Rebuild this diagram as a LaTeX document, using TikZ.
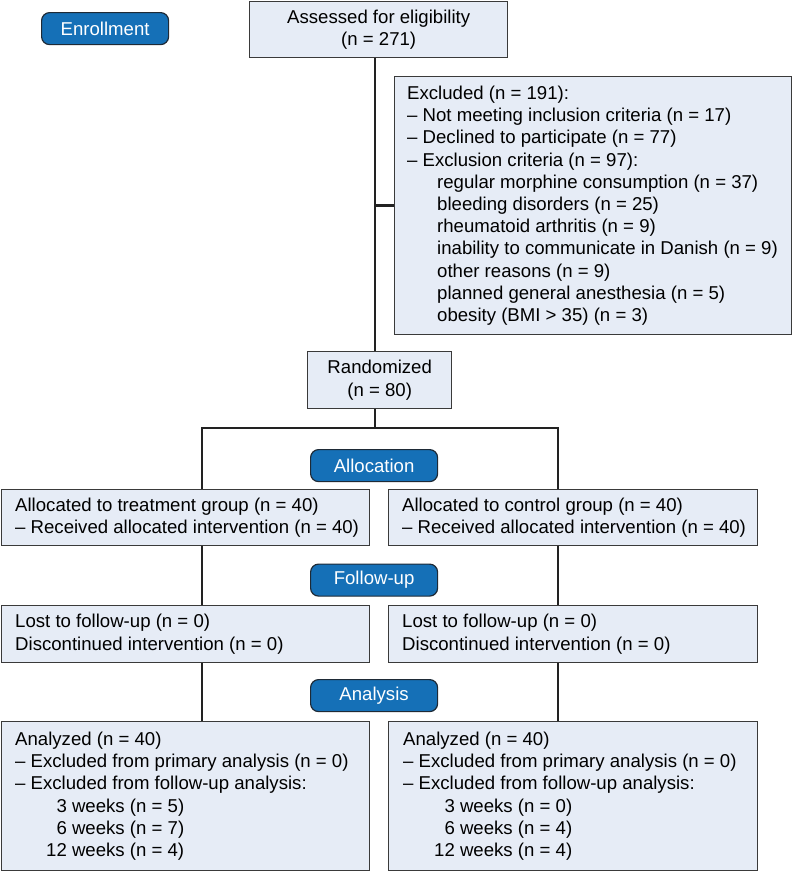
\documentclass[tikz,border=0pt]{standalone}
\usepackage{fontspec}
\setmainfont{Liberation Sans}
\usetikzlibrary{calc}
\definecolor{boxfill}{HTML}{E6ECF6}
\definecolor{boxline}{HTML}{3A3A3A}
\definecolor{pillfill}{HTML}{1570B7}
\definecolor{pillline}{HTML}{1E2A36}
\definecolor{conn}{HTML}{222222}
\begin{document}
\begin{tikzpicture}[x=1pt,y=-1pt,
  every node/.style={font=\fontsize{18.6pt}{22.2pt}\selectfont},
  flowbox/.style={draw=boxline,line width=1.4pt,fill=boxfill,anchor=north west,inner sep=0pt},
  boxtext/.style={anchor=west,inner sep=0pt,align=left},
  centerbox/.style={draw=boxline,line width=1.4pt,fill=boxfill,anchor=north west,inner sep=0pt,align=center},
  pill/.style={draw=pillline,line width=1.2pt,fill=pillfill,text=white,rounded corners=8pt,anchor=north west,inner sep=0pt,minimum width=127pt,minimum height=32pt},
  link/.style={draw=conn,line width=2.6pt}]
\useasboundingbox (0,0) rectangle (793,871);

% pills
\node[pill] (penr) at (41,12) {Enrollment};
\node[pill] (palloc) at (310,449) {Allocation};
\node[pill] (pfu) at (310,563.5) {Follow-up};
\node[pill] (pan) at (310,679) {Analysis};

% boxes
\node[centerbox,minimum width=258pt,minimum height=56pt] (assess) at (249,1) {Assessed for eligibility\\(n = 271)};
\node[flowbox,minimum width=397pt,minimum height=258pt] (excl) at (394,76) {};
\node[boxtext] (exclt) at ($(excl.west)+(13,0)$) {Excluded (n = 191):\\
– Not meeting inclusion criteria (n = 17)\\
– Declined to participate (n = 77)\\
– Exclusion criteria (n = 97):\\
\hspace*{30pt}regular morphine consumption (n = 37)\\
\hspace*{30pt}bleeding disorders (n = 25)\\
\hspace*{30pt}rheumatoid arthritis (n = 9)\\
\hspace*{30pt}inability to communicate in Danish (n = 9)\\
\hspace*{30pt}other reasons (n = 9)\\
\hspace*{30pt}planned general anesthesia (n = 5)\\
\hspace*{30pt}obesity (BMI > 35) (n = 3)};
\node[centerbox,minimum width=144pt,minimum height=57pt] (rand) at (307,351) {Randomized\\(n = 80)};

\node[flowbox,minimum width=368pt,minimum height=56pt] (allocL) at (1,489) {};
\node[boxtext] (allocLt) at ($(allocL.west)+(14,0)$) {Allocated to treatment group (n = 40)\\– Received allocated intervention (n = 40)};
\node[flowbox,minimum width=369pt,minimum height=56pt] (allocR) at (388,489) {};
\node[boxtext] (allocRt) at ($(allocR.west)+(14,0)$) {Allocated to control group (n = 40)\\– Received allocated intervention (n = 40)};

\node[flowbox,minimum width=368pt,minimum height=57pt] (fuL) at (1,605) {};
\node[boxtext] (fuLt) at ($(fuL.west)+(14,0)$) {Lost to follow-up (n = 0)\\Discontinued intervention (n = 0)};
\node[flowbox,minimum width=369pt,minimum height=57pt] (fuR) at (388,605) {};
\node[boxtext] (fuRt) at ($(fuR.west)+(14,0)$) {Lost to follow-up (n = 0)\\Discontinued intervention (n = 0)};

\node[flowbox,minimum width=368pt,minimum height=149pt] (anL) at (1,721) {};
\node[boxtext] (anLt) at ($(anL.west)+(14,0)$) {Analyzed (n = 40)\\
– Excluded from primary analysis (n = 0)\\
– Excluded from follow-up analysis:\\
\hspace*{31pt}\phantom{1}3 weeks (n = 5)\\
\hspace*{31pt}\phantom{1}6 weeks (n = 7)\\
\hspace*{31pt}12 weeks (n = 4)};
\node[flowbox,minimum width=369pt,minimum height=149pt] (anR) at (388,721) {};
\node[boxtext] (anRt) at ($(anR.west)+(15,0)$) {Analyzed (n = 40)\\
– Excluded from primary analysis (n = 0)\\
– Excluded from follow-up analysis:\\
\hspace*{31pt}\phantom{1}3 weeks (n = 0)\\
\hspace*{31pt}\phantom{1}6 weeks (n = 4)\\
\hspace*{31pt}12 weeks (n = 4)};

% connector guide coordinates
\coordinate (sp) at (375,0);
\coordinate (lx) at (202,0);
\coordinate (rx) at (558,0);
\coordinate (split) at (375,428);

% connectors
\draw[link] (assess.south -| sp) -- (rand.north -| sp);
\draw[link] (sp |- excl.west) -- (excl.west);
\draw[link] (rand.south -| sp) -- (split);
\draw[link] (allocL.north -| lx) -- (lx |- split) -- (rx |- split) -- (allocR.north -| rx);
\draw[link] (allocL.south -| lx) -- (fuL.north -| lx);
\draw[link] (allocR.south -| rx) -- (fuR.north -| rx);
\draw[link] (fuL.south -| lx) -- (anL.north -| lx);
\draw[link] (fuR.south -| rx) -- (anR.north -| rx);
\end{tikzpicture}
\end{document}
